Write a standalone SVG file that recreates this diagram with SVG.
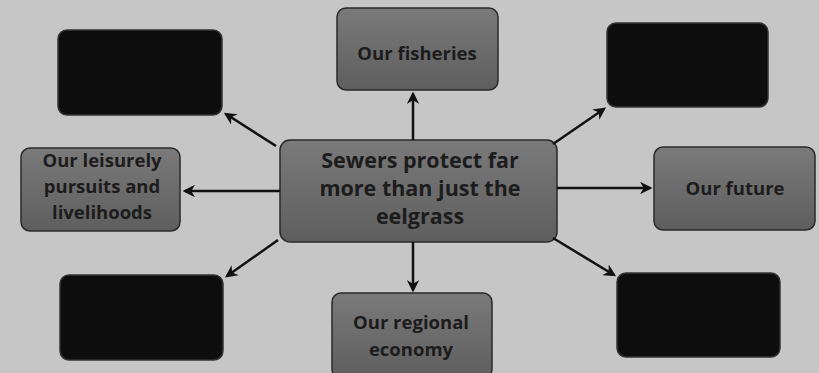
<svg xmlns="http://www.w3.org/2000/svg" width="819" height="373" viewBox="0 0 819 373">
<defs>
<marker id="ah" viewBox="0 0 10 10" refX="8" refY="5" markerWidth="5" markerHeight="5" orient="auto" markerUnits="strokeWidth">
<path d="M0,0 L10,5 L0,10 L3,5 Z" fill="#111"/>
</marker>
<linearGradient id="g" x1="0" y1="0" x2="0" y2="1">
<stop offset="0" stop-color="#7a7a7a"/>
<stop offset="1" stop-color="#5e5e5e"/>
</linearGradient>
</defs>
<style>
.bg{fill:#c6c6c6}
.gray{fill:url(#g);stroke:#2a2a2a;stroke-width:1.5}
.dark{fill:#0d0d0d;stroke:#333;stroke-width:1.5}
.t{font-family:"Open Sans","Liberation Sans",sans-serif;font-weight:bold;fill:#1c1c1c;text-anchor:middle}
.s{font-size:18.5px}
.b{font-size:21.5px}
.c line{stroke:#111;stroke-width:2.5;marker-end:url(#ah)}
</style>
<rect class="bg" x="0" y="0" width="819" height="373"/>
<g id="center">
<rect class="gray" x="280" y="140" width="277" height="102" rx="10"/>
<text class="t b" x="420" y="168">Sewers protect far</text>
<text class="t b" x="420" y="196">more than just the</text>
<text class="t b" x="420" y="224">eelgrass</text>
</g>
<g id="fisheries">
<rect class="gray" x="337" y="8" width="161" height="82" rx="9"/>
<text class="t s" x="417" y="60">Our fisheries</text>
</g>
<g id="leisure">
<rect class="gray" x="21" y="148" width="159" height="83" rx="9"/>
<text class="t s" x="102" y="167">Our leisurely</text>
<text class="t s" x="102" y="193">pursuits and</text>
<text class="t s" x="102" y="219">livelihoods</text>
</g>
<g id="future">
<rect class="gray" x="654" y="147" width="161" height="83" rx="9"/>
<text class="t s" x="735" y="195">Our future</text>
</g>
<g id="economy">
<rect class="gray" x="332" y="293" width="160" height="85" rx="9"/>
<text class="t s" x="411" y="329">Our regional</text>
<text class="t s" x="411" y="356">economy</text>
</g>
<g id="topleft"><rect class="dark" x="58" y="30" width="164" height="85" rx="9"/></g>
<g id="topright"><rect class="dark" x="607" y="23" width="161" height="84" rx="9"/></g>
<g id="bottomleft"><rect class="dark" x="60" y="275" width="163" height="85" rx="9"/></g>
<g id="bottomright"><rect class="dark" x="617" y="273" width="163" height="84" rx="9"/></g>
<g class="c">
<line x1="413" y1="140" x2="413" y2="94"/>
<line x1="280" y1="191" x2="185" y2="191"/>
<line x1="557" y1="188" x2="650" y2="188"/>
<line x1="413" y1="242" x2="413" y2="290"/>
<line x1="276" y1="146" x2="226" y2="114"/>
<line x1="553" y1="144" x2="604" y2="109"/>
<line x1="278" y1="240" x2="227" y2="276"/>
<line x1="553" y1="238" x2="614" y2="275"/>
</g>
</svg>
